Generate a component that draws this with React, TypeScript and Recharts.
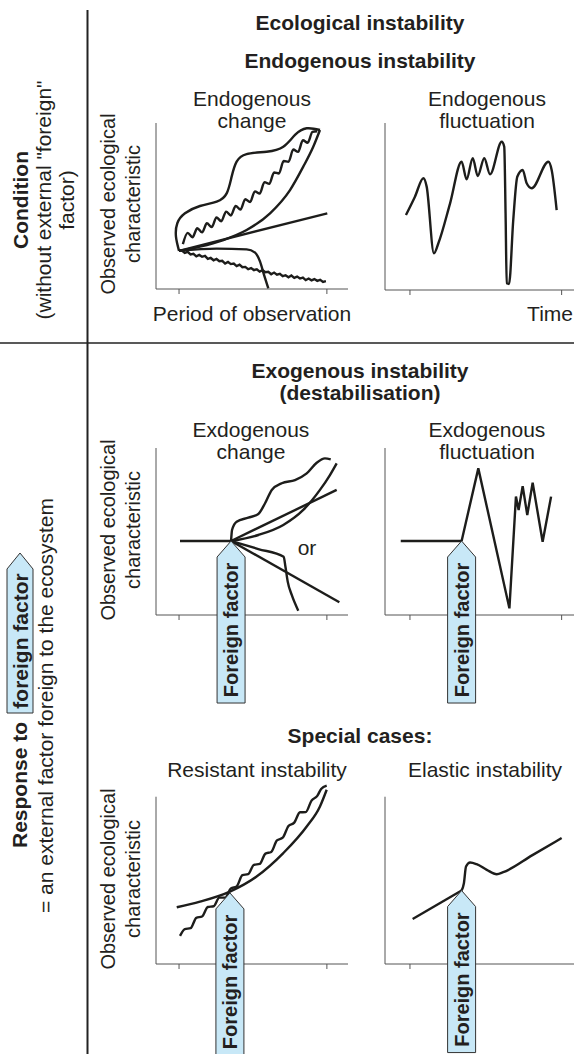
import React from 'react';
import { LineChart, Line, XAxis, YAxis, ReferenceLine, ReferenceDot } from 'recharts';

type Pt = [number, number];

// ---- Endogenous change (top left) ----
const changeUpper: Pt[] = [[12, 23], [10.4, 31.5], [11.1, 39.6], [15.1, 45.6], [22.9, 50], [31.6, 52.6], [36.8, 57.6], [39.4, 67.7], [42, 76.7], [47.2, 81.3], [57.6, 82.7], [66.3, 85.7], [72.4, 92.8], [78.5, 96.8], [85.4, 95.8]];
const changeLower: Pt[] = [[12, 23], [22.9, 25.5], [35.1, 29.5], [47.2, 35.5], [59.4, 45.6], [69.8, 59.6], [76.7, 73.7], [81.9, 85.7], [85.4, 95.8]];
const changeWavy: Pt[] = [[14, 27], [16.5, 33.8], [19, 31.2], [21.5, 36.6], [24, 34.1], [26.5, 39.6], [29, 37.3], [31.5, 43.1], [34, 40.8], [36.5, 46.6], [39, 44.3], [41.5, 50], [44, 47.8], [46.5, 54.1], [49, 52.4], [51.5, 58.8], [54, 57.5], [56.5, 64.4], [59, 63.3], [61.5, 70.2], [64, 69.6], [66.5, 77.1], [69, 76.6], [71.5, 84], [74, 82.6], [76.5, 89.6], [79, 88.1], [81.5, 94.6], [84, 95]];
const changeRay: Pt[] = [[12, 23], [89.2, 45.6]];
const changeDrop: Pt[] = [[12, 23], [31.6, 24.3], [47.2, 23.9], [51.6, 21.9], [54.2, 16.5], [56.3, 8.4], [58.5, 0.4]];
const changeNoisy: Pt[] = [[12, 23], [13.5, 23.2], [15, 21.7], [16.5, 22.4], [18, 20.8], [19.5, 21.2], [21, 19.7], [22.5, 20.5], [24, 19.4], [25.5, 19.9], [27, 18.1], [28.5, 18.7], [30, 17.3], [31.5, 18.1], [33, 16.7], [34.5, 17], [36, 15.3], [37.5, 16.3], [39, 15], [40.5, 15.3], [42, 13.8], [43.5, 14.7], [45, 13.1], [46.5, 13.3], [48, 11.9], [49.5, 12.6], [51, 11.4], [52.5, 11.9], [54, 10.5], [55.5, 11.3], [57, 10.1], [58.5, 10.4], [60, 8.9], [61.5, 9.9], [63, 8.6], [64.5, 9.1], [66, 7.7], [67.5, 8.3], [69, 7.1], [70.5, 8.1], [72, 6.7], [73.5, 7.5], [75, 6.3], [76.5, 6.9], [78, 5.4], [79.5, 6.3], [81, 5.2], [82.5, 6], [84, 4.9], [85.5, 5.5], [87, 4.3], [88.5, 4.7]];

// ---- Endogenous fluctuation (top right) ----
const endoFluct: Pt[] = [[10.9, 44.9], [15.6, 55.9], [20, 66.9], [21.7, 61.9], [25.5, 22], [27.8, 28], [33.9, 51.9], [39.9, 76.8], [42.5, 66.3], [45.7, 78.9], [48.3, 68.3], [51.7, 78.9], [54.7, 69.3], [60.8, 88.8], [62.1, 85.8], [62.8, 45.9], [63.4, 4], [64.6, 3.6], [66.8, 41.9], [68.9, 67.8], [71.7, 71.9], [73.8, 63.9], [76.4, 60.9], [85.1, 76.8], [86.8, 71.9], [89.4, 47.9]];

// ---- Exogenous change (middle left) ----
const exoFlat: Pt[] = [[12.5, 44.3], [39.1, 44.3]];
const exoWavyUp: Pt[] = [[39.1, 44.3], [39.6, 50.9], [42, 55.9], [48.1, 58.3], [53.3, 60.5], [56.8, 66.9], [60.3, 74.9], [65.5, 78.9], [72.4, 80.8], [78.5, 84.8], [83.7, 91.2], [88, 93.8], [91, 93.2]];
const exoConvexUp: Pt[] = [[39.1, 44.3], [53.3, 47.9], [66.3, 53.9], [76.7, 62.9], [85.4, 74.9], [90.6, 83.8], [94.1, 90.8]];
const exoRayUp: Pt[] = [[39.1, 44.3], [94.1, 74.9]];
const exoRayDown: Pt[] = [[39.1, 44.3], [95.5, 7.6]];
const exoDrop: Pt[] = [[39.1, 44.3], [53.3, 39.5], [66.5, 34.9], [67.4, 29], [68.6, 20], [70.7, 12], [74.1, 2.6]];

// ---- Exogenous fluctuation (middle right) ----
const exoFluctFlat: Pt[] = [[8.2, 44.3], [39.9, 44.3]];
const exoFluct: Pt[] = [[39.9, 44.3], [48.6, 87.8], [64.8, 4], [68.2, 70.9], [69.6, 62.9], [71.7, 77.2], [74.1, 59.9], [76.9, 79.2], [82.1, 43.9], [86.5, 70.9]];

// ---- Resistant instability (bottom left) ----
const resistSmooth: Pt[] = [[10.8, 33.9], [22.9, 37.3], [38.5, 43.3], [52.4, 52.3], [66.3, 66.3], [78.5, 82.2], [85.4, 94.2], [88.9, 104.2]];
const resistWavy: Pt[] = [[12.5, 16.8], [15, 20.9], [18, 21.4], [21, 27.6], [24, 28.4], [27, 34.1], [30, 34.5], [33, 39.7], [36, 39.7], [39, 45.1], [42, 46.3], [45, 53.1], [48, 53.7], [51, 59.3], [54, 59.8], [57, 66], [60, 67], [63, 73.9], [66, 75.5], [69, 82.5], [72, 84.5], [75, 90.7], [78, 90.8], [81, 97.7], [84, 100.5], [86, 104.6], [88.9, 106.6]];

// ---- Elastic instability (bottom right) ----
const elasticPre: Pt[] = [[14.4, 26.9], [39.9, 43.9]];
const elasticPost: Pt[] = [[39.9, 43.9], [41.1, 48.3], [42.2, 58.3], [44.3, 60.7], [47.7, 59.7], [53, 56.3], [58.2, 53.7], [61.6, 54.9], [76.8, 65.1], [92, 75.3]];

// x-axis tick positions (left / right column)
const ticksLeft = [12, 89];
const ticksRight = [13, 92];
const ticksElastic = [13];

const INK = '#1d1d1b';
const TEXT = '#231f20';
const AXIS = '#555';
const FONT = '"Liberation Sans", Arial, Helvetica, sans-serif';

const toData = (pts: Pt[]) => pts.map(([x, y]) => ({ x, y }));

// blue "Foreign factor" arrow, tip on the point where the factor hits
const ForeignArrow = ({ cx, cy }: { cx: number; cy: number }) => {
  const w = 14;
  const head = 16;
  const len = 162;
  const d = `M${cx},${cy} L${cx + w},${cy + head} L${cx + w},${cy + len} L${cx - w},${cy + len} L${cx - w},${cy + head} Z`;
  const my = cy + head + (len - head) / 2;
  return (
    <g>
      <path d={d} fill="#c8e8f7" stroke="#333" strokeWidth={1} />
      <text
        x={cx}
        y={my}
        transform={`rotate(-90 ${cx} ${my})`}
        textAnchor="middle"
        dominantBaseline="central"
        fontFamily={FONT}
        fontWeight="bold"
        fontSize={20}
        fill={TEXT}
      >
        Foreign factor
      </text>
    </g>
  );
};

interface SeriesDef {
  pts: Pt[];
  type?: 'monotone' | 'linear' | 'natural';
}

interface PanelProps {
  left: number;
  top: number;
  width: number;
  height: number;
  margin: { top: number; right: number; left: number; bottom: number };
  yMax?: number;
  ticks: number[];
  series: SeriesDef[];
  arrow?: Pt;
}

const Panel: React.FC<PanelProps> = ({ left, top, width, height, margin, yMax = 100, ticks, series, arrow }) => (
  <div style={{ position: 'absolute', left, top }}>
    <LineChart width={width} height={height} margin={margin}>
      <XAxis
        dataKey="x"
        type="number"
        domain={[0, 100]}
        ticks={ticks}
        tickFormatter={() => ''}
        tickSize={5}
        height={10}
        axisLine={{ stroke: AXIS, strokeWidth: 1 }}
        tickLine={{ stroke: AXIS, strokeWidth: 1 }}
      />
      <YAxis type="number" domain={[0, yMax]} hide />
      <ReferenceLine segment={[{ x: 0, y: 0 }, { x: 0, y: 100 }]} stroke={AXIS} strokeWidth={1} />
      {series.map((s, i) => (
        <Line
          key={i}
          data={toData(s.pts)}
          dataKey="y"
          type={s.type ?? 'monotone'}
          stroke={INK}
          strokeWidth={2.4}
          dot={false}
          activeDot={false}
          isAnimationActive={false}
        />
      ))}
      {arrow && (
        <ReferenceDot
          x={arrow[0]}
          y={arrow[1]}
          r={0}
          zIndex={900}
          shape={(p: any) => <ForeignArrow cx={p.cx} cy={p.cy} />}
        />
      )}
    </LineChart>
  </div>
);

const marginL = (t: number, b: number) => ({ top: t, right: 12, left: 66, bottom: b });
const marginR = (t: number, b: number) => ({ top: t, right: 13, left: 25, bottom: b });

const YLabel = ({ cy }: { cy: number }) => (
  <g fontSize={20}>
    <text transform={`translate(115,${cy}) rotate(-90)`} textAnchor="middle">Observed ecological</text>
    <text transform={`translate(140,${cy}) rotate(-90)`} textAnchor="middle">characteristic</text>
  </g>
);

const App: React.FC = () => {
  return (
    <div style={{ position: 'absolute', left: 0, top: 0, width: 574, height: 1054, overflow: 'hidden', background: '#fff' }}>
      {/* top row: no foreign factor */}
      <Panel left={90} top={80} width={270} height={260} margin={marginL(43, 41)} ticks={ticksLeft}
        series={[
          { pts: changeUpper, type: 'natural' },
          { pts: changeLower },
          { pts: changeWavy },
          { pts: changeRay, type: 'linear' },
          { pts: changeDrop },
          { pts: changeNoisy, type: 'linear' },
        ]}
      />
      <Panel left={360} top={80} width={230} height={260} margin={marginR(43, 40)} ticks={ticksRight}
        series={[{ pts: endoFluct }]}
      />

      {/* middle row: exogenous */}
      <Panel left={90} top={400} width={270} height={310} margin={marginL(48, 85)} ticks={ticksLeft}
        series={[
          { pts: exoFlat, type: 'linear' },
          { pts: exoWavyUp },
          { pts: exoConvexUp },
          { pts: exoRayUp, type: 'linear' },
          { pts: exoRayDown, type: 'linear' },
          { pts: exoDrop },
        ]}
        arrow={[39.1, 44.3]}
      />
      <Panel left={360} top={400} width={230} height={310} margin={marginR(48, 85)} ticks={ticksRight}
        series={[
          { pts: exoFluctFlat, type: 'linear' },
          { pts: exoFluct, type: 'linear' },
        ]}
        arrow={[39.9, 44.3]}
      />

      {/* bottom row: special cases */}
      <Panel left={90} top={760} width={270} height={294} margin={marginL(20, 80)} yMax={110} ticks={ticksLeft}
        series={[{ pts: resistSmooth }, { pts: resistWavy }]}
        arrow={[38.5, 42.5]}
      />
      <Panel left={360} top={760} width={230} height={294} margin={marginR(20, 80)} yMax={110} ticks={ticksElastic}
        series={[
          { pts: elasticPre, type: 'linear' },
          { pts: elasticPost },
        ]}
        arrow={[39.9, 43.9]}
      />

      {/* text and dividers */}
      <svg width={574} height={1054} style={{ position: 'absolute', left: 0, top: 0, pointerEvents: 'none' }}
        fontFamily={FONT} fontSize={21} fill={TEXT}>
        <line x1={87.5} y1={10} x2={87.5} y2={1054} stroke="#222" strokeWidth={2} />
        <line x1={0} y1={343} x2={574} y2={343} stroke="#222" strokeWidth={1.5} />

        <g fontWeight="bold" textAnchor="middle">
          <text x={360} y={30}>Ecological instability</text>
          <text x={360} y={68}>Endogenous instability</text>
          <text x={360} y={378}>Exogenous instability</text>
          <text x={360} y={400}>(destabilisation)</text>
          <text x={360} y={743}>Special cases:</text>
        </g>

        <g textAnchor="middle">
          <text x={252} y={106}>Endogenous</text>
          <text x={252} y={128}>change</text>
          <text x={487} y={106}>Endogenous</text>
          <text x={487} y={128}>fluctuation</text>
          <text x={252} y={321}>Period of observation</text>

          <text x={251} y={437}>Exdogenous</text>
          <text x={251} y={459}>change</text>
          <text x={487} y={437}>Exdogenous</text>
          <text x={487} y={459}>fluctuation</text>
          <text x={307} y={555}>or</text>

          <text x={257} y={777}>Resistant instability</text>
          <text x={485} y={777}>Elastic instability</text>

          <YLabel cy={204} />
          <YLabel cy={530} />
          <YLabel cy={879} />
        </g>
        <text x={573} y={321} textAnchor="end">Time</text>

        {/* left column */}
        <g textAnchor="middle">
          <text transform="translate(28,200) rotate(-90)" fontWeight="bold">Condition</text>
          <text transform="translate(51,200) rotate(-90)">(without external "foreign"</text>
          <text transform="translate(74,200) rotate(-90)">factor)</text>
        </g>
        <text transform="translate(27,848) rotate(-90)" fontWeight="bold">Response to</text>
        <path d="M20,553 L33,569 L33,713 L7,713 L7,569 Z" fill="#c8e8f7" stroke="#333" strokeWidth={1} />
        <text transform="translate(20,641) rotate(-90)" textAnchor="middle" dominantBaseline="central" fontWeight="bold">foreign factor</text>
        <text transform="translate(53,913) rotate(-90)">= an external factor foreign to the ecosystem</text>
      </svg>
    </div>
  );
};

export default App;
